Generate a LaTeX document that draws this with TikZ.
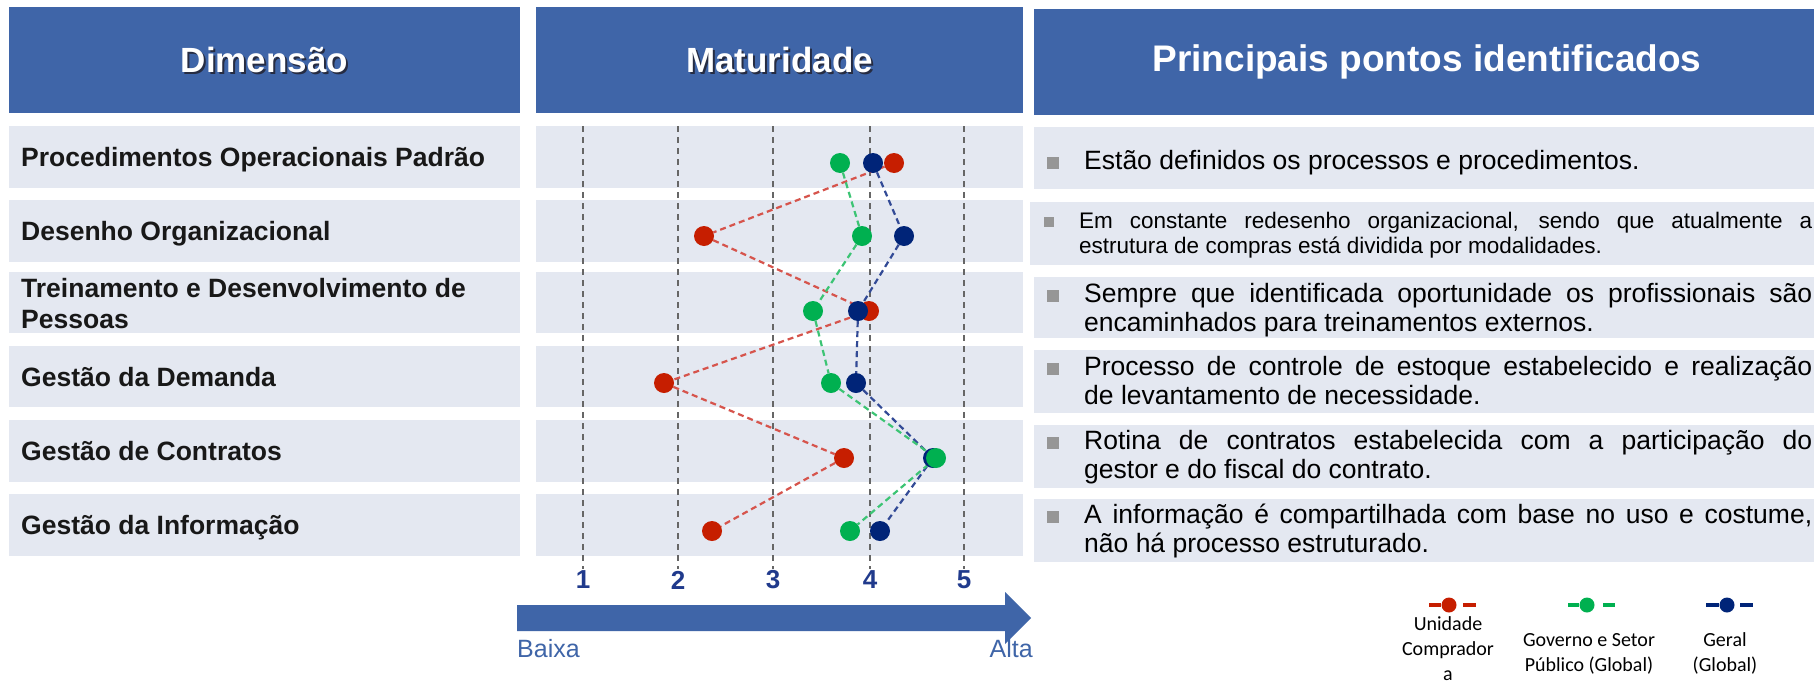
\documentclass[tikz,border=0pt]{standalone}
\usepackage{fontspec}
\setmainfont{Liberation Sans}
\newfontfamily\legendfont{Carlito}
\usepackage{tikz}
\usetikzlibrary{positioning, calc}
\definecolor{hdrblue}{RGB}{63,101,168}
\definecolor{bandgray}{RGB}{228,232,241}
\definecolor{shadow}{RGB}{38,44,66}
\definecolor{dimblack}{RGB}{24,24,24}
\definecolor{dotred}{RGB}{198,30,0}
\definecolor{dotgreen}{RGB}{0,176,80}
\definecolor{dotblue}{RGB}{0,36,120}
\definecolor{linered}{RGB}{214,84,76}
\definecolor{linegreen}{RGB}{60,196,116}
\definecolor{lineblue}{RGB}{50,74,150}
\definecolor{numblue}{RGB}{32,58,140}
\definecolor{bulletgray}{RGB}{150,150,150}
\pgfdeclarelayer{front}
\pgfsetlayers{main,front}
\hyphenpenalty=10000
\tolerance=10000
\hbadness=10000
\tikzset{
	band/.style={fill=bandgray},
	header/.style={fill=hdrblue},
	hdrtext/.style={
		text=white,
		inner sep=0pt,
		font=\fontsize{35}{40}\selectfont\bfseries
	},
	dimtext/.style={
		anchor=base west,
		inner sep=0pt,
		text width=500pt,
		align=flush left,
		text=dimblack,
		font=\fontsize{26.5}{31}\selectfont\bfseries
	},
	point/.style={
		anchor=base west,
		inner sep=0pt,
		text width=728pt,
		align=justify,
		font=\fontsize{26.5}{29}\selectfont
	},
	bullet/.style={
		fill=bulletgray,
		inner sep=0pt,
		minimum size=12pt
	}
}

\begin{document}
\begin{tikzpicture}[x=1pt, y=-1pt]
	\tikzset{dot/.style={circle, inner sep=0pt, minimum size=20pt}}
	\tikzset{link/.style={dash pattern=on 6pt off 4pt, line width=2.2pt}}
	\tikzset{grid/.style={dash pattern=on 6pt off 5pt, line width=1.4pt, black!60}}
	\tikzset{num/.style={text=numblue, inner sep=2pt, font=\fontsize{26}{30}\selectfont\bfseries}}
	\tikzset{ldot/.style={circle, inner sep=0pt, minimum size=15pt}}
	\tikzset{lline/.style={line width=4pt}}
	\tikzset{legtext/.style={anchor=base, inner sep=0pt, text width=150pt, align=flush center, font=\legendfont\fontsize{20}{25}\selectfont}}
	
	\fill[white] (0,0) rectangle (1814,683);
	\useasboundingbox (0,0) rectangle (1814,683);
	
	\fill[header] (9,7) rectangle (520,113);
	\fill[header] (536,7) rectangle (1023,113);
	\fill[header] (1034,9) rectangle (1814,115);
	
	\foreach \t/\b in {126/188, 200/262, 272/333, 346/407, 420/482, 494/556} {
		\fill[band] (9,\t) rectangle (520,\b);
		\fill[band] (536,\t) rectangle (1023,\b);
	}
	\foreach \t/\b in {127/189, 277/338, 350/413, 425/488, 499/562}
		\fill[band] (1034,\t) rectangle (1814,\b);
	\fill[band] (1030,202) rectangle (1814,265);
	
	\node(dim_s) at (266.5,62) [hdrtext, text=shadow] {Dimensão};
	\node(dim) at (264.5,60) [hdrtext] {Dimensão};
	\node(mat_s) at (781.5,62) [hdrtext, text=shadow] {Maturidade};
	\node(mat) at (779.5,60) [hdrtext] {Maturidade};
	\node(pts) at (1427,62) [hdrtext, font=\fontsize{37}{44}\selectfont\bfseries] {Principais pontos identificados};
	
	\node(d1) at (21,166) [dimtext] {Procedimentos Operacionais Padrão};
	\node(d2) at (21,240) [dimtext] {Desenho Organizacional};
	\node(d3) at (21,297) [dimtext] {Treinamento e Desenvolvimento de\\Pessoas};
	\node(d4) at (21,386) [dimtext] {Gestão da Demanda};
	\node(d5) at (21,460) [dimtext] {Gestão de Contratos};
	\node(d6) at (21,534) [dimtext] {Gestão da Informação};
	
	\foreach \v/\x in {1/583, 2/678, 3/773, 4/870, 5/964} {
		\node(n\v) at (\x,580) [num] {\v};
		\coordinate (t\v) at (\x,126);
		\draw[grid] (t\v) -- (n\v);
	}
	
	\fill[hdrblue] (517,605) -- (1005,605) -- (1005,592) -- (1031,618) -- (1005,644) -- (1005,631) -- (517,631) -- cycle;
	\node(low) at (517,657) [anchor=base west, inner sep=0pt, text=hdrblue, font=\fontsize{25}{30}\selectfont] {Baixa};
	\node(high) at (1033,657) [anchor=base east, inner sep=0pt, text=hdrblue, font=\fontsize{25}{30}\selectfont] {Alta};
	
	\begin{pgfonlayer}{front}
		\node(r1) at (894,163) [dot,fill=dotred] {};
		\node(r2) at (704,236) [dot,fill=dotred] {};
		\node(r3) at (869,311) [dot,fill=dotred] {};
		\node(r4) at (664,383) [dot,fill=dotred] {};
		\node(r5) at (844,458) [dot,fill=dotred] {};
		\node(r6) at (712,531) [dot,fill=dotred] {};
		
		\node(b1) at (873,163) [dot,fill=dotblue] {};
		\node(b2) at (904,236) [dot,fill=dotblue] {};
		\node(b3) at (858,311) [dot,fill=dotblue] {};
		\node(b4) at (856,383) [dot,fill=dotblue] {};
		\node(b5) at (933,458) [dot,fill=dotblue] {};
		\node(b6) at (880,531) [dot,fill=dotblue] {};
		
		\node(g1) at (840,163) [dot,fill=dotgreen] {};
		\node(g2) at (862,236) [dot,fill=dotgreen] {};
		\node(g3) at (813,311) [dot,fill=dotgreen] {};
		\node(g4) at (831,383) [dot,fill=dotgreen] {};
		\node(g5) at (936,458) [dot,fill=dotgreen] {};
		\node(g6) at (850,531) [dot,fill=dotgreen] {};
	\end{pgfonlayer}
	
	\draw[link, linered] (r1) -- (r2);
	\draw[link, linered] (r2) -- (r3);
	\draw[link, linered] (r3) -- (r4);
	\draw[link, linered] (r4) -- (r5);
	\draw[link, linered] (r5) -- (r6);
	
	\draw[link, lineblue] (b1) -- (b2);
	\draw[link, lineblue] (b2) -- (b3);
	\draw[link, lineblue] (b3) -- (b4);
	\draw[link, lineblue] (b4) -- (b5);
	\draw[link, lineblue] (b5) -- (b6);
	
	\draw[link, linegreen] (g1) -- (g2);
	\draw[link, linegreen] (g2) -- (g3);
	\draw[link, linegreen] (g3) -- (g4);
	\draw[link, linegreen] (g4) -- (g5);
	\draw[link, linegreen] (g5) -- (g6);
	
	\node(bul1) at (1053,163) [bullet] {};
	\node(bul2) at (1049,222) [bullet, minimum size=10pt] {};
	\node(bul3) at (1053,296) [bullet] {};
	\node(bul4) at (1053,369) [bullet] {};
	\node(bul5) at (1053,443) [bullet] {};
	\node(bul6) at (1053,517) [bullet] {};
	
	\node(p1) at (1084,169) [point] {Estão definidos os processos e procedimentos.};
	\node(p2) at (1079,228) [point, text width=733pt, font=\fontsize{22.5}{25}\selectfont] {Em constante redesenho organizacional, sendo que atualmente a\linebreak estrutura de compras está dividida por modalidades.};
	\node(p3) at (1084,302) [point] {Sempre que identificada oportunidade os profissionais são\linebreak encaminhados para treinamentos externos.};
	\node(p4) at (1084,375) [point] {Processo de controle de estoque estabelecido e realização\linebreak de levantamento de necessidade.};
	\node(p5) at (1084,449) [point] {Rotina de contratos estabelecida com a participação do\linebreak gestor e do fiscal do contrato.};
	\node(p6) at (1084,523) [point] {A informação é compartilhada com base no uso e costume,\linebreak não há processo estruturado.};
	
	\node(legR) at (1449,605) [ldot, fill=dotred] {};
	\node(legG) at (1587,605) [ldot, fill=dotgreen] {};
	\node(legB) at (1727,605) [ldot, fill=dotblue] {};
	\coordinate (legRa) at (1429,605);
	\coordinate (legRb) at (1463,605);
	\coordinate (legRc) at (1476,605);
	\coordinate (legGa) at (1568,605);
	\coordinate (legGb) at (1603,605);
	\coordinate (legGc) at (1615,605);
	\coordinate (legBa) at (1706,605);
	\coordinate (legBb) at (1740,605);
	\coordinate (legBc) at (1753,605);
	\draw[lline, dotred] (legRa) -- (legR);
	\draw[lline, dotred] (legRb) -- (legRc);
	\draw[lline, dotgreen] (legGa) -- (legG);
	\draw[lline, dotgreen] (legGb) -- (legGc);
	\draw[lline, dotblue] (legBa) -- (legB);
	\draw[lline, dotblue] (legBb) -- (legBc);
	
	\node(legRt) at (1448,630) [legtext] {Unidade\\Comprador\\a};
	\node(legGt) at (1589,646) [legtext] {Governo e Setor\\Público (Global)};
	\node(legBt) at (1725,646) [legtext] {Geral\\(Global)};
\end{tikzpicture}
\end{document}
